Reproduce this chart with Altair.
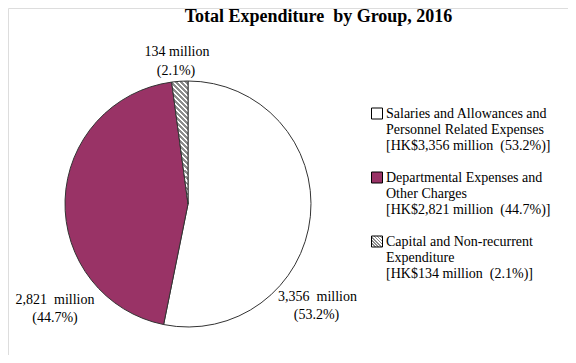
import altair as alt
import pandas as pd

# ---- data ----
categories = [
    "Salaries and Allowances and Personnel Related Expenses",
    "Departmental Expenses and Other Charges",
    "Capital and Non-recurrent Expenditure",
]
values = [3356, 2821, 134]          # HK$ million
percents = [53.2, 44.7, 2.1]
legend_lines = [
    ["Salaries and Allowances and", "Personnel Related Expenses", "[HK$3,356 million  (53.2%)]"],
    ["Departmental Expenses and", "Other Charges", "[HK$2,821 million  (44.7%)]"],
    ["Capital and Non-recurrent", "Expenditure", "[HK$134 million  (2.1%)]"],
]
title_text = "Total Expenditure\u00a0 by Group, 2016"

# ---- layout / style ----
W, H = 560, 347
CX, CY, R = 180, 196, 123
PURPLE = "#993366"
FONT = "Liberation Serif"


def hatch(n, a, k=1.2):
    stops = []
    for i in range(n):
        t0 = i / n
        t1 = (i + 0.45) / n
        t2 = (i + 1) / n
        stops += [
            {"offset": t0, "color": "#8c8c8c"},
            {"offset": t1, "color": "#8c8c8c"},
            {"offset": t1, "color": "#ffffff"},
            {"offset": t2, "color": "#ffffff"},
        ]
    return {"gradient": "linear", "x1": 0, "y1": 1, "x2": a * k, "y2": 1 - k, "stops": stops}


pie_df = pd.DataFrame({"cat": categories, "value": values, "ord": [0, 1, 2]})

pie = alt.Chart(pie_df).mark_arc(radius=R, stroke="#333333", strokeWidth=1).encode(
    x=alt.value(CX),
    y=alt.value(CY),
    theta=alt.Theta("value:Q", stack=True),
    order=alt.Order("ord:Q"),
    fill=alt.condition(
        alt.datum.ord == 2,
        alt.value(hatch(30, 0.1325)),
        alt.Fill("cat:N", scale=alt.Scale(domain=categories, range=["#ffffff", PURPLE, "#999999"]), legend=None),
    ),
)

# slice labels
lab_rows = []
lab_pos = {0: (309.5, 289, 308.5, 307), 1: (47, 292, 47, 310), 2: (169, 44, 168, 63)}
for i, (v, p) in enumerate(zip(values, percents)):
    txt = f"{v:,}" + ("\u00a0 " if v >= 1000 else " ") + "million"
    x1, y1, x2, y2 = lab_pos[i]
    lab_rows.append({"t": txt, "lx": x1, "ly": y1})
    lab_rows.append({"t": f"({p}%)", "lx": x2, "ly": y2})
lab_df = pd.DataFrame(lab_rows)
labels = alt.Chart(lab_df).mark_text(font=FONT, fontSize=14, color="black", baseline="middle").encode(
    x=alt.X("lx:Q", scale=None), y=alt.Y("ly:Q", scale=None), text="t:N"
)

# title
title = alt.Chart(pd.DataFrame({"t": [title_text]})).mark_text(
    font=FONT, fontSize=18, fontWeight="bold", color="black", baseline="alphabetic"
).encode(x=alt.value(310.5), y=alt.value(13.5), text="t:N")

# legend
LX, LY0, GSTEP, LSTEP = 369, 105.5, 64, 16.2
leg_rows = []
for g, lines in enumerate(legend_lines):
    for l, s in enumerate(lines):
        leg_rows.append({"g": g, "l": l, "t": s.replace("  ", "\u00a0 ")})
leg_df = pd.DataFrame(leg_rows)
leg_text = alt.Chart(leg_df).transform_calculate(
    py=f"{LY0} + datum.g * {GSTEP} + datum.l * {LSTEP}"
).mark_text(font=FONT, fontSize=14, color="black", align="left", baseline="middle").encode(
    x=alt.value(LX + 9), y=alt.Y("py:Q", scale=None), text="t:N"
)

sw_df = pd.DataFrame({"cat": categories, "g": [0, 1, 2]})
swatch = alt.Chart(sw_df).transform_calculate(
    py=f"{LY0} + datum.g * {GSTEP}"
).mark_square(size=121, stroke="black", strokeWidth=1, opacity=1).encode(
    x=alt.value(LX),
    y=alt.Y("py:Q", scale=None),
    fill=alt.condition(
        alt.datum.g == 2,
        alt.value(hatch(7, 1.0, 1.0)),
        alt.Fill("cat:N", scale=alt.Scale(domain=categories, range=["#ffffff", PURPLE, "#999999"]), legend=None),
    ),
)

chart = alt.layer(pie, labels, title, leg_text, swatch).properties(
    width=W, height=H, autosize="none", padding=0
).configure_view(stroke=None).configure(background="white")

chart.save("out.html", embed_options={"renderer": "svg", "actions": False})
